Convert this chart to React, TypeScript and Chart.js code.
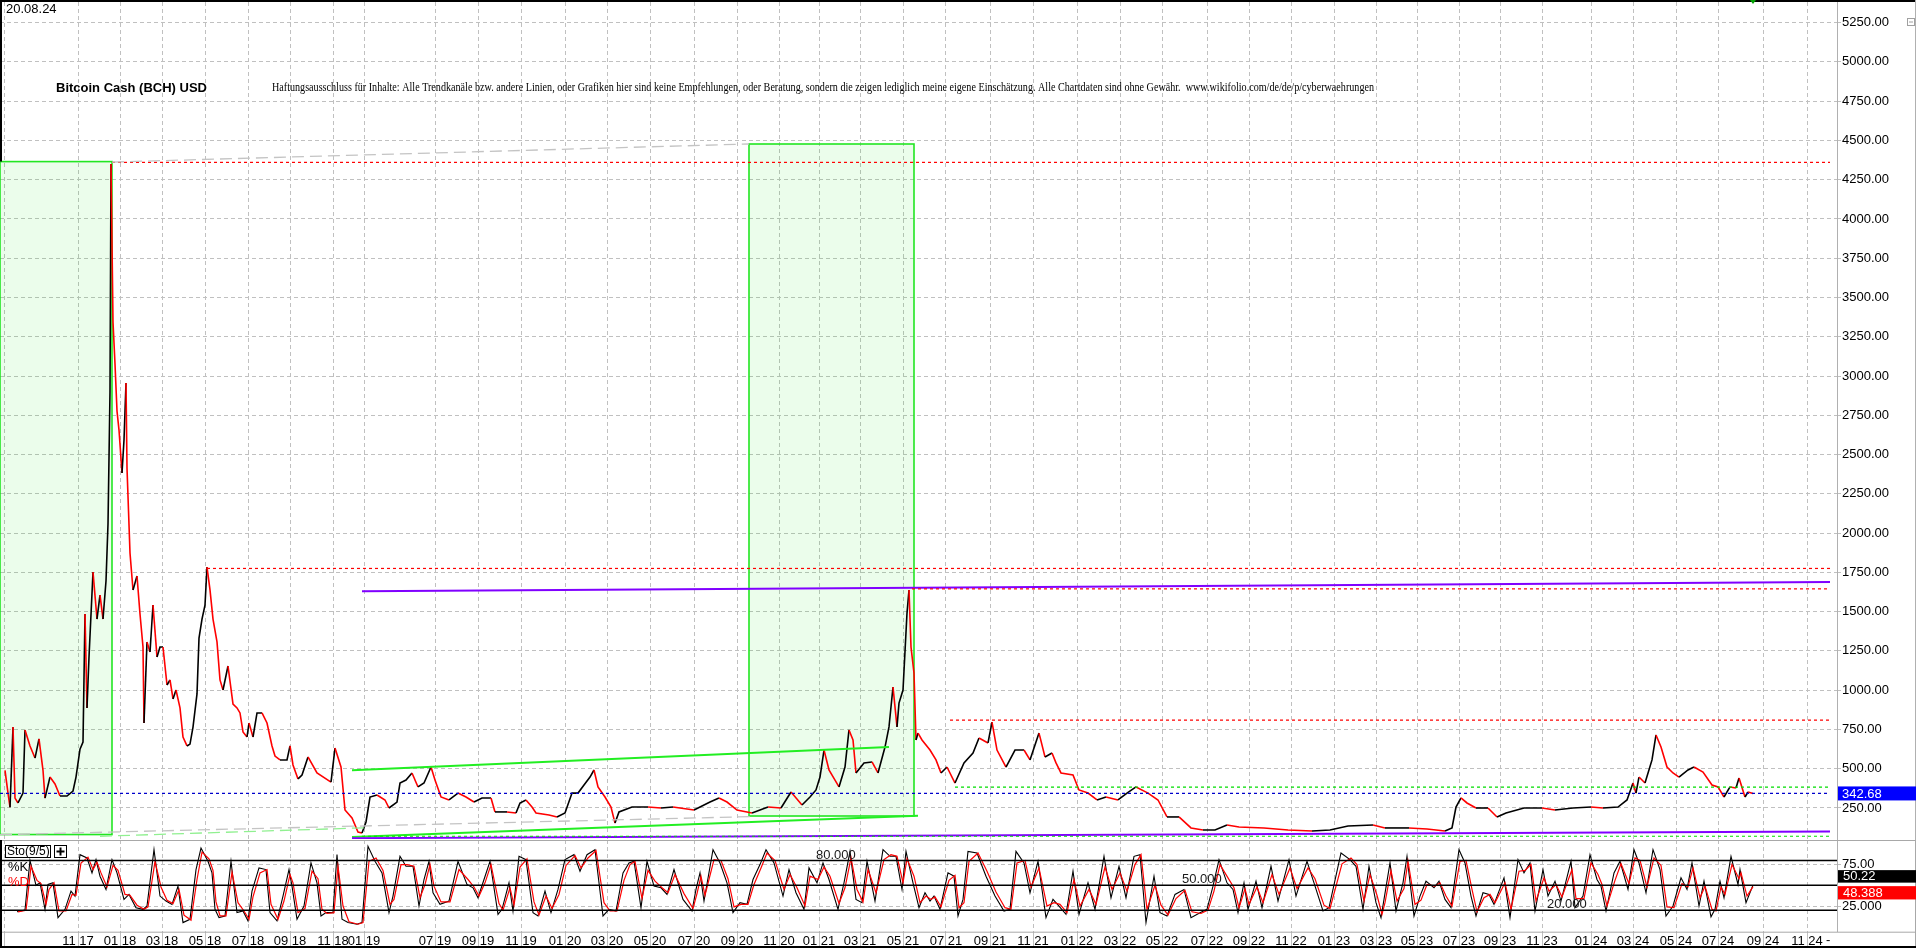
import React, { useEffect, useRef } from 'react';
import { Chart, registerables } from 'chart.js';
Chart.register(...registerables);

// ---------- axis set-up (bar-slot index on x) ----------
const X_MAX = 1837;
const PRICE_MIN = 52.65;
const PRICE_MAX = 5381;
const STO_MIN = -6;
const STO_MAX = 104.7;

const monthTickIdx = [4, 78, 120, 162, 205, 248, 290, 333, 364, 435, 478, 521, 565, 607, 650, 694, 737, 779, 819, 860, 903, 946, 990, 1033, 1077, 1120, 1162, 1207, 1249, 1291, 1334, 1376, 1417, 1459, 1500, 1542, 1591, 1633, 1676, 1718, 1763, 1807];
const monthTickLabels = ['', '11 17', '01 18', '03 18', '05 18', '07 18', '09 18', '11 18', '01 19', '07 19', '09 19', '11 19', '01 20', '03 20', '05 20', '07 20', '09 20', '11 20', '01 21', '03 21', '05 21', '07 21', '09 21', '11 21', '01 22', '03 22', '05 22', '07 22', '09 22', '11 22', '01 23', '03 23', '05 23', '07 23', '09 23', '11 23', '01 24', '03 24', '05 24', '07 24', '09 24', '11 24'];

const priceTicks = [250, 500, 750, 1000, 1250, 1500, 1750, 2000, 2250, 2500, 2750, 3000, 3250, 3500, 3750, 4000, 4250, 4500, 4750, 5000, 5250];
const stoTicks = [25, 75];
const stoLevels = [20, 50, 80];

// ---------- series ----------
const priceSeries: [number, number][] = [[5,490],[8,345],[10,255],[13,765],[15,313],[18,282],[23,345],[25,747],[30,645],[35,568],[39,690],[43,490],[45,313],[50,447],[55,403],[60,326],[67,326],[73,358],[76,447],[80,625],[83,670],[85,1485],[87,887],[89,1211],[93,1752],[97,1453],[100,1606],[103,1453],[106,1695],[108,2058],[110,2898],[111,4350],[113,3344],[115,3077],[117,2777],[119,2656],[122,2383],[124,2593],[126,2955],[127,2414],[130,1873],[133,1638],[137,1727],[140,1485],[143,1275],[144,791],[147,1307],[150,1243],[153,1542],[157,1211],[160,1275],[163,1275],[167,1033],[170,1065],[173,944],[176,1001],[180,887],[183,702],[187,645],[190,657],[193,765],[197,976],[199,1332],[202,1453],[205,1542],[207,1784],[210,1638],[213,1453],[217,1307],[220,1065],[223,1001],[228,1154],[233,912],[237,887],[240,855],[243,734],[247,702],[249,791],[253,702],[257,855],[262,855],[267,791],[272,645],[275,581],[280,556],[287,556],[290,645],[293,524],[298,435],[302,460],[308,575],[317,473],[331,415],[335,632],[341,511],[345,237],[352,186],[358,97],[362,91],[366,161],[370,320],[377,333],[385,301],[389,250],[397,288],[400,409],[406,428],[412,473],[418,384],[424,409],[431,511],[435,428],[441,320],[449,301],[458,345],[466,320],[474,288],[482,314],[491,314],[495,225],[507,225],[516,218],[520,282],[526,301],[532,256],[536,218],[549,205],[557,193],[565,218],[572,345],[578,345],[584,396],[590,447],[594,492],[598,384],[605,320],[611,256],[615,154],[619,225],[632,256],[648,256],[661,250],[673,256],[694,237],[710,288],[719,314],[727,288],[737,237],[752,218],[768,256],[781,250],[791,352],[802,269],[810,320],[816,365],[820,447],[824,619],[829,492],[835,428],[839,384],[845,511],[849,747],[853,683],[856,473],[864,537],[872,543],[878,473],[885,638],[889,766],[893,1020],[897,766],[899,918],[903,1001],[907,1491],[909,1638],[911,1275],[914,1109],[916,683],[918,727],[922,683],[930,619],[936,556],[941,473],[947,511],[955,409],[964,537],[973,600],[979,696],[988,664],[992,797],[997,619],[1006,511],[1015,619],[1024,619],[1030,556],[1039,727],[1045,575],[1052,600],[1056,537],[1061,473],[1073,460],[1079,365],[1088,345],[1097,301],[1106,320],[1118,301],[1127,345],[1136,384],[1148,345],[1158,301],[1167,193],[1179,193],[1191,123],[1203,110],[1215,110],[1227,142],[1239,129],[1264,123],[1288,110],[1312,104],[1330,110],[1348,135],[1373,142],[1385,123],[1409,123],[1427,116],[1445,104],[1452,123],[1456,256],[1461,314],[1467,282],[1476,250],[1488,250],[1497,193],[1506,218],[1524,250],[1542,250],[1555,237],[1573,250],[1591,256],[1603,250],[1618,256],[1627,301],[1633,409],[1636,345],[1639,447],[1645,409],[1652,556],[1656,715],[1661,638],[1667,511],[1673,473],[1679,447],[1688,492],[1694,511],[1703,479],[1712,396],[1718,384],[1724,320],[1730,384],[1736,377],[1739,441],[1745,320],[1748,352],[1753,342.68]];

const stoK: [number, number][] = [[17,18],[25,20],[27,45],[30,80],[36,50],[40,53],[45,21],[48,51],[53,53],[58,11],[65,21],[71,43],[75,37],[80,87],[87,83],[92,65],[96,81],[100,61],[106,45],[112,81],[117,65],[124,33],[129,39],[136,23],[143,21],[147,25],[154,93],[160,37],[166,31],[172,27],[178,49],[183,5],[190,9],[196,69],[201,95],[208,79],[212,65],[215,21],[219,11],[225,13],[231,79],[237,17],[243,19],[248,7],[252,43],[259,71],[266,69],[270,17],[277,7],[283,37],[289,69],[292,49],[297,9],[304,25],[311,77],[317,53],[321,13],[326,17],[333,17],[337,87],[342,9],[348,5],[357,3],[362,5],[368,97],[375,79],[382,65],[389,17],[393,37],[400,85],[406,73],[413,73],[419,25],[424,57],[429,79],[433,41],[440,27],[449,31],[458,79],[467,51],[473,47],[478,35],[484,57],[490,79],[498,15],[502,21],[509,53],[513,19],[519,85],[526,81],[533,17],[538,13],[545,43],[551,17],[558,45],[565,81],[574,87],[580,67],[587,87],[595,93],[603,13],[609,21],[616,19],[623,65],[629,77],[634,79],[641,23],[647,79],[654,49],[661,47],[667,39],[674,69],[683,33],[692,19],[696,45],[700,65],[704,31],[713,93],[720,77],[727,53],[733,17],[740,29],[747,27],[753,57],[760,75],[766,93],[774,77],[783,37],[789,69],[796,41],[804,21],[809,71],[817,53],[823,77],[829,57],[838,21],[844,53],[850,91],[856,33],[862,29],[867,79],[875,31],[883,93],[890,85],[896,85],[902,45],[906,91],[913,53],[919,23],[925,41],[930,31],[934,37],[940,21],[948,65],[954,61],[958,13],[963,33],[968,91],[977,89],[986,61],[995,37],[1004,19],[1010,21],[1016,91],[1024,77],[1030,41],[1038,79],[1046,11],[1053,33],[1059,25],[1066,15],[1073,67],[1079,15],[1088,53],[1095,21],[1104,85],[1111,35],[1119,73],[1126,35],[1134,85],[1140,87],[1146,5],[1154,61],[1160,17],[1167,13],[1175,39],[1184,45],[1191,11],[1200,17],[1207,21],[1213,49],[1219,81],[1227,53],[1233,45],[1238,17],[1244,53],[1248,21],[1256,55],[1262,23],[1271,73],[1278,31],[1289,81],[1296,37],[1307,79],[1314,53],[1323,19],[1329,23],[1341,89],[1350,81],[1356,73],[1363,21],[1369,73],[1376,29],[1381,11],[1384,33],[1390,77],[1396,19],[1403,53],[1407,85],[1414,13],[1420,37],[1426,55],[1434,47],[1439,55],[1445,33],[1451,23],[1459,93],[1465,77],[1471,37],[1476,13],[1483,41],[1489,39],[1494,27],[1504,59],[1510,11],[1518,81],[1524,65],[1530,77],[1535,19],[1543,69],[1548,37],[1555,55],[1561,31],[1571,79],[1575,23],[1583,37],[1590,87],[1597,57],[1601,49],[1606,19],[1614,65],[1620,79],[1628,45],[1634,93],[1639,77],[1646,41],[1653,93],[1660,69],[1666,13],[1673,25],[1681,59],[1687,45],[1692,77],[1699,25],[1704,55],[1711,12],[1715,21],[1720,55],[1724,35],[1731,85],[1738,51],[1740,69],[1746,29],[1753,50.22]];

const stoD: [number, number][] = [[18,18],[26,20],[28,40],[31,73],[37,56],[41,52],[46,27],[49,45],[54,53],[59,19],[66,19],[72,39],[76,38],[81,77],[88,84],[93,69],[97,78],[101,65],[107,48],[113,74],[118,68],[125,39],[130,38],[137,26],[144,21],[148,24],[155,79],[161,48],[167,32],[173,28],[179,45],[184,14],[191,8],[197,57],[202,90],[209,82],[213,68],[216,30],[220,13],[226,13],[232,66],[238,29],[244,19],[249,9],[253,36],[260,65],[267,69],[271,27],[278,9],[284,31],[290,63],[293,53],[298,17],[305,22],[312,67],[318,58],[322,21],[327,16],[334,17],[338,73],[343,25],[349,6],[358,3],[363,5],[369,79],[376,83],[383,68],[390,27],[394,33],[401,75],[407,75],[414,73],[420,35],[425,51],[430,75],[434,49],[441,30],[450,30],[459,69],[468,57],[474,48],[479,37],[485,53],[491,75],[499,28],[503,20],[510,47],[514,26],[520,72],[527,82],[534,30],[539,14],[546,37],[552,22],[559,39],[566,74],[575,86],[581,71],[588,83],[596,92],[604,29],[610,19],[617,19],[624,56],[630,75],[635,79],[642,34],[648,68],[655,55],[662,47],[668,41],[675,63],[684,40],[693,22],[697,40],[701,61],[705,38],[714,81],[721,80],[728,58],[734,24],[741,27],[748,27],[754,51],[761,71],[767,89],[775,80],[784,45],[790,63],[797,47],[805,25],[810,61],[818,57],[824,72],[830,61],[839,28],[845,47],[851,83],[857,45],[863,30],[868,69],[876,41],[884,81],[891,87],[897,85],[903,53],[907,82],[914,61],[920,29],[926,37],[931,33],[935,36],[941,24],[949,56],[955,62],[959,23],[964,29],[969,79],[978,89],[987,67],[996,42],[1005,23],[1011,21],[1017,77],[1025,80],[1031,48],[1039,71],[1047,25],[1054,29],[1060,27],[1067,17],[1074,57],[1080,25],[1089,45],[1096,27],[1105,72],[1112,45],[1120,65],[1127,43],[1135,75],[1141,87],[1147,21],[1155,50],[1161,26],[1168,14],[1176,34],[1185,44],[1192,18],[1201,16],[1208,20],[1214,43],[1220,75],[1228,59],[1234,47],[1239,23],[1245,46],[1249,27],[1257,48],[1263,29],[1272,63],[1279,39],[1290,71],[1297,46],[1308,71],[1315,58],[1324,26],[1330,22],[1342,76],[1351,83],[1357,75],[1364,31],[1370,63],[1377,38],[1382,15],[1385,29],[1391,68],[1397,31],[1404,46],[1408,79],[1415,27],[1421,32],[1427,51],[1435,49],[1440,53],[1446,37],[1452,25],[1460,79],[1466,80],[1472,45],[1477,18],[1484,35],[1490,39],[1495,29],[1505,53],[1511,21],[1519,67],[1525,68],[1531,75],[1536,31],[1544,59],[1549,43],[1556,51],[1562,36],[1572,69],[1576,34],[1584,34],[1591,77],[1598,63],[1602,51],[1607,25],[1615,56],[1621,76],[1629,52],[1635,83],[1640,80],[1647,48],[1654,83],[1661,74],[1667,24],[1674,23],[1682,52],[1688,48],[1693,71],[1700,35],[1705,49],[1712,21],[1716,19],[1721,48],[1725,39],[1732,75],[1739,58],[1741,65],[1747,37],[1753,48.388]];

const lastClose = 342.68;
const lastK = 50.22;
const lastD = 48.388;

// ---------- drawings on the price pane ----------
const LINE_END = 1830;
const shadedBoxes: [number, number, number, number][] = [[0, 112, 81, 4365], [749, 914, 199, 4477]]; // x0, x1, low, high
const redDashLevels = [4360, 1775, 1645, 810];
const redDashStarts = [112, 207, 912, 950];
const purpleLines: [number, number, number, number][] = [[362, 1630, LINE_END, 1688], [352, 58, LINE_END, 100]];
const greenChannel: [number, number, number, number][] = [[352, 490, 889, 638], [352, 65, 918, 200]];
const greenDashLevels = [383, 70];
const greenDashStarts = [955, 362];
const greyDashLines: [number, number, number, number][] = [[112, 4362, 749, 4477], [0, 80, 750, 195]];
const lightGreenDashLines: [number, number, number, number][] = [[100, 70, 370, 125]];

const FONT = "'Liberation Sans', Arial, sans-serif";

function seg(x0: number, v0: number, x1: number, v1: number, color: string, width: number, dash: number[] = []) {
  return {
    type: 'line' as const,
    data: [{ x: x0, y: v0 }, { x: x1, y: v1 }],
    borderColor: color,
    borderWidth: width,
    borderDash: dash,
    pointRadius: 0,
    fill: false,
    tension: 0,
  };
}

const zeroPad = (s: any) => { s.paddingTop = 0; s.paddingBottom = 0; s.paddingLeft = 0; s.paddingRight = 0; };

export default function App() {
  const priceRef = useRef<HTMLCanvasElement>(null);
  const stoRef = useRef<HTMLCanvasElement>(null);

  useEffect(() => {
    const drawings: any[] = [];
    greyDashLines.forEach(l => drawings.push(seg(l[0], l[1], l[2], l[3], '#c4c4c4', 1.3, [12, 6])));
    lightGreenDashLines.forEach(l => drawings.push(seg(l[0], l[1], l[2], l[3], '#90f090', 1.3, [12, 6])));
    redDashLevels.forEach((v, i) => drawings.push(seg(redDashStarts[i], v, LINE_END, v, '#ff0000', 1.2, [3, 3])));
    greenDashLevels.forEach((v, i) => drawings.push(seg(greenDashStarts[i], v, LINE_END, v, '#00dd00', 1.2, [3, 3])));
    drawings.push(seg(0, lastClose, LINE_END, lastClose, '#0000cc', 1.2, [3, 3]));
    purpleLines.forEach(l => drawings.push(seg(l[0], l[1], l[2], l[3], '#8000ff', 2)));
    greenChannel.forEach(l => drawings.push(seg(l[0], l[1], l[2], l[3], '#22ee22', 2)));

    const priceDataset = {
      type: 'line' as const,
      data: priceSeries.map(p => ({ x: p[0], y: p[1] })),
      borderColor: '#000',
      borderWidth: 1.6,
      pointRadius: 0,
      tension: 0,
      fill: false,
      segment: {
        borderColor: (ctx: any) => (ctx.p1.parsed.y < ctx.p0.parsed.y ? '#ff0000' : '#000000'),
      },
    };

    const priceDecor = {
      id: 'priceDecor',
      beforeDatasetsDraw(chart: any) {
        const { ctx } = chart;
        const xs = chart.scales.x, ys = chart.scales.y;
        ctx.save();
        shadedBoxes.forEach(b => {
          const x0 = xs.getPixelForValue(b[0]), x1 = xs.getPixelForValue(b[1]);
          const y0 = ys.getPixelForValue(b[3]), y1 = ys.getPixelForValue(b[2]);
          ctx.fillStyle = 'rgba(0,230,0,0.08)';
          ctx.fillRect(x0, y0, x1 - x0, y1 - y0);
          ctx.strokeStyle = '#22e622';
          ctx.lineWidth = 1.6;
          ctx.strokeRect(x0, y0, x1 - x0, y1 - y0);
        });
        ctx.restore();
      },
      afterDraw(chart: any) {
        const { ctx } = chart;
        const ys = chart.scales.y;
        const xs = chart.scales.x;
        ctx.save();
        ctx.strokeStyle = '#000';
        ctx.lineWidth = 2;
        ctx.beginPath();
        ctx.moveTo(0, 1); ctx.lineTo(1916, 1);
        ctx.stroke();
        ctx.beginPath();
        ctx.moveTo(1, 0); ctx.lineTo(1, ys.getPixelForValue(shadedBoxes[0][3]));
        ctx.stroke();
        ctx.strokeStyle = '#b0b0b0';
        ctx.lineWidth = 1;
        ctx.beginPath();
        ctx.moveTo(1915.5, 0); ctx.lineTo(1915.5, 840);
        ctx.stroke();
        ctx.fillStyle = '#000';
        ctx.textBaseline = 'middle';
        ctx.textAlign = 'left';
        ctx.font = `13px ${FONT}`;
        ctx.fillText('20.08.24', 6, 9);
        ctx.font = `bold 13px ${FONT}`;
        ctx.fillText('Bitcoin Cash (BCH) USD', 56, 88);
        const disc = 'Haftungsausschluss für Inhalte: Alle Trendkanäle bzw. andere Linien, oder Grafiken hier sind keine Empfehlungen, oder Beratung, sondern die zeigen lediglich meine eigene Einschätzung. Alle Chartdaten sind ohne Gewähr.  www.wikifolio.com/de/de/p/cyberwaehrungen';
        ctx.font = "13px 'Liberation Serif', 'DejaVu Serif', serif";
        const w = ctx.measureText(disc).width;
        ctx.save();
        ctx.translate(272, 88);
        ctx.scale(1102 / w, 1);
        ctx.fillText(disc, 0, 0);
        ctx.restore();
        const py = ys.getPixelForValue(lastClose);
        ctx.fillStyle = '#0000ff';
        ctx.fillRect(1838, py - 7, 78, 14);
        ctx.fillStyle = '#fff';
        ctx.font = `13px ${FONT}`;
        ctx.fillText(lastClose.toFixed(2), 1842, py + 0.5);
        const mx = xs.getPixelForValue(priceSeries[priceSeries.length - 1][0]);
        ctx.fillStyle = '#00a000';
        ctx.beginPath();
        ctx.moveTo(mx - 3, 0); ctx.lineTo(mx + 3, 0); ctx.lineTo(mx, 4); ctx.closePath();
        ctx.fill();
        ctx.strokeStyle = '#a0a0a0';
        ctx.lineWidth = 1;
        ctx.strokeRect(1907.5, 18.5, 7, 7);
        ctx.beginPath(); ctx.moveTo(1909, 22); ctx.lineTo(1913, 22); ctx.stroke();
        ctx.restore();
      },
    };

    const c1 = new Chart(priceRef.current as HTMLCanvasElement, {
      type: 'line',
      data: { datasets: [...drawings, priceDataset] as any },
      options: {
        responsive: false,
        animation: false,
        devicePixelRatio: 1,
        layout: { padding: { top: 2, bottom: 1, left: 0, right: 0 } },
        plugins: { legend: { display: false }, tooltip: { enabled: false } },
        scales: {
          x: {
            type: 'linear', min: 0, max: X_MAX,
            afterBuildTicks: (s: any) => { s.ticks = monthTickIdx.map(v => ({ value: v })); },
            afterFit: (s: any) => { s.height = 0; zeroPad(s); },
            ticks: { display: false },
            grid: { color: '#c0c0c0', drawTicks: false, lineWidth: 1 },
            border: { display: false, dash: [4, 3] },
          },
          y: {
            type: 'linear', position: 'right', min: PRICE_MIN, max: PRICE_MAX,
            afterBuildTicks: (s: any) => { s.ticks = priceTicks.map(v => ({ value: v })); },
            afterFit: (s: any) => { s.width = 79; zeroPad(s); },
            ticks: { callback: (v: any) => Number(v).toFixed(2), color: '#000', padding: 1, font: { family: FONT, size: 13 } },
            grid: { color: '#c0c0c0', tickLength: 4, lineWidth: 1 },
            border: { display: true, color: '#b0b0b0', dash: [4, 3] },
          },
        },
      } as any,
      plugins: [priceDecor],
    });

    const stoDecor = {
      id: 'stoDecor',
      afterDraw(chart: any) {
        const { ctx } = chart;
        const ys = chart.scales.y;
        const xs = chart.scales.x;
        ctx.save();
        ctx.strokeStyle = '#a8a8a8';
        ctx.lineWidth = 1;
        ctx.beginPath(); ctx.moveTo(0, 0.5); ctx.lineTo(1916, 0.5); ctx.stroke();
        const yb = chart.chartArea.bottom + 0.5;
        ctx.beginPath(); ctx.moveTo(0, yb); ctx.lineTo(1916, yb); ctx.stroke();
        ctx.beginPath(); ctx.moveTo(1915.5, 0); ctx.lineTo(1915.5, 108); ctx.stroke();
        ctx.strokeStyle = '#000';
        ctx.lineWidth = 2;
        ctx.beginPath(); ctx.moveTo(1, 0); ctx.lineTo(1, 108); ctx.stroke();
        ctx.beginPath(); ctx.moveTo(0, 107); ctx.lineTo(1916, 107); ctx.stroke();
        ctx.lineWidth = 1;
        ctx.strokeStyle = '#000';
        ctx.fillStyle = '#fff';
        ctx.fillRect(5, 5, 46, 12);
        ctx.strokeRect(5.5, 5.5, 45, 12);
        ctx.fillRect(54, 5, 13, 12);
        ctx.strokeRect(54.5, 5.5, 12, 12);
        ctx.fillStyle = '#000';
        ctx.font = `12px ${FONT}`;
        ctx.textBaseline = 'middle';
        ctx.textAlign = 'left';
        ctx.fillText('Sto(9/5)', 7, 12);
        ctx.fillRect(56.5, 10.5, 8, 2);
        ctx.fillRect(59.5, 7.5, 2, 8);
        ctx.font = `13px ${FONT}`;
        ctx.fillText('%K', 8, 27);
        ctx.fillStyle = '#ff0000';
        ctx.fillText('%D', 8, 42);
        ctx.fillStyle = '#1a1a1a';
        ctx.textBaseline = 'bottom';
        const cap: [string, number, number][] = [['80.000', 816, 80], ['50.000', 1182, 50], ['20.000', 1547, 20]];
        cap.forEach(c => ctx.fillText(c[0], c[1], ys.getPixelForValue(c[2]) + 1));
        const ky = ys.getPixelForValue(lastK);
        const dy = ys.getPixelForValue(lastD);
        ctx.fillStyle = '#000';
        ctx.fillRect(1838, ky - 15, 78, 12.5);
        ctx.fillStyle = '#ff0000';
        ctx.fillRect(1838, dy - 0.5, 78, 13.3);
        ctx.fillStyle = '#fff';
        ctx.textBaseline = 'middle';
        ctx.fillText(lastK.toFixed(2), 1843, ky - 8.5);
        ctx.fillText(lastD.toFixed(3), 1843, dy + 6.5);
        ctx.fillStyle = '#000';
        ctx.fillText('-', xs.getPixelForValue(1828) - 2, 100);
        ctx.restore();
      },
    };

    const levelSets = stoLevels.map(v => seg(0, v, X_MAX, v, '#000', 1.5));

    const c2 = new Chart(stoRef.current as HTMLCanvasElement, {
      type: 'line',
      data: {
        datasets: [
          ...levelSets,
          { type: 'line', data: stoD.map(p => ({ x: p[0], y: p[1] })), borderColor: '#ff0000', borderWidth: 1.2, pointRadius: 0, tension: 0, fill: false },
          { type: 'line', data: stoK.map(p => ({ x: p[0], y: p[1] })), borderColor: '#000', borderWidth: 1.1, pointRadius: 0, tension: 0, fill: false },
        ] as any,
      },
      options: {
        responsive: false,
        animation: false,
        devicePixelRatio: 1,
        layout: { padding: { top: 0, bottom: 0, left: 0, right: 0 } },
        plugins: { legend: { display: false }, tooltip: { enabled: false } },
        scales: {
          x: {
            type: 'linear', min: 0, max: X_MAX,
            afterBuildTicks: (s: any) => { s.ticks = monthTickIdx.map(v => ({ value: v })); },
            afterFit: (s: any) => { s.height = 16.3; zeroPad(s); },
            ticks: {
              autoSkip: false, maxRotation: 0, minRotation: 0, padding: -14, color: '#000',
              font: { family: FONT, size: 13 },
              callback: (_v: any, i: number) => monthTickLabels[i],
            },
            grid: { color: '#c0c0c0', tickLength: 16, lineWidth: 1 },
            border: { display: false, dash: [4, 3] },
          },
          y: {
            type: 'linear', position: 'right', min: STO_MIN, max: STO_MAX,
            afterBuildTicks: (s: any) => { s.ticks = stoTicks.map(v => ({ value: v })); },
            afterFit: (s: any) => { s.width = 79; zeroPad(s); },
            ticks: { callback: (v: any) => (Number(v) === 75 ? '75.00' : '25.000'), color: '#000', padding: 1, font: { family: FONT, size: 13 } },
            grid: { color: '#c0c0c0', tickLength: 4, lineWidth: 1 },
            border: { display: true, color: '#b0b0b0', dash: [4, 3] },
          },
        },
      } as any,
      plugins: [stoDecor],
    });

    return () => { c1.destroy(); c2.destroy(); };
  }, []);

  return (
    <div style={{ position: 'absolute', left: 0, top: 0, width: 1916, height: 948, background: '#fff', overflow: 'hidden' }}>
      <canvas ref={priceRef} width={1916} height={840} style={{ position: 'absolute', left: 0, top: 0, width: 1916, height: 840 }} />
      <canvas ref={stoRef} width={1916} height={108} style={{ position: 'absolute', left: 0, top: 840, width: 1916, height: 108 }} />
    </div>
  );
}
